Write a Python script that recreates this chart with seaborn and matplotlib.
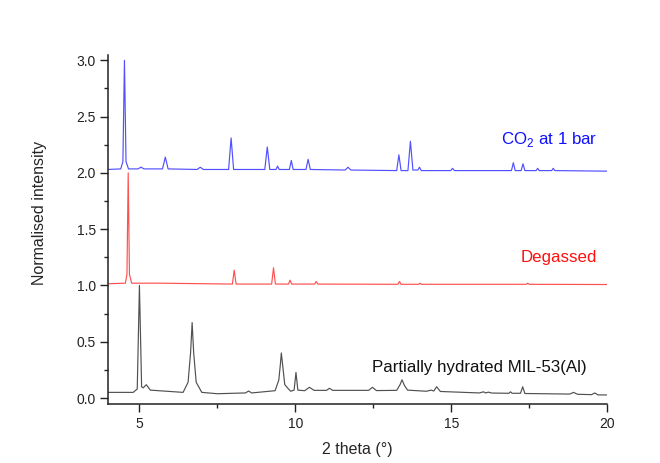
import matplotlib
matplotlib.use("Agg")
import matplotlib.pyplot as plt
from matplotlib.ticker import MultipleLocator
import seaborn as sns
import pandas as pd

# ---- data (2 theta in degrees, normalised intensity) ----
co2_x = [4.00, 4.40, 4.47, 4.52, 4.57, 4.65, 4.95, 5.05, 5.15, 5.74, 5.83, 5.92,
         6.85, 6.95, 7.05, 7.86, 7.94, 8.02, 9.02, 9.10, 9.18, 9.38, 9.43, 9.48,
         9.81, 9.87, 9.93, 10.34, 10.41, 10.48, 11.60, 11.69, 11.78, 13.25, 13.32,
         13.39, 13.61, 13.69, 13.77, 13.93, 13.98, 14.04, 14.98, 15.04, 15.10,
         16.93, 16.99, 17.05, 17.24, 17.30, 17.36, 17.72, 17.77, 17.82, 18.22,
         18.27, 18.32, 20.00]
co2_y = [2.03, 2.035, 2.10, 3.00, 2.10, 2.035, 2.035, 2.05, 2.035, 2.035, 2.14, 2.035,
         2.03, 2.05, 2.03, 2.03, 2.31, 2.03, 2.03, 2.23, 2.03, 2.03, 2.06, 2.03,
         2.03, 2.11, 2.03, 2.03, 2.12, 2.03, 2.025, 2.05, 2.025, 2.02, 2.16,
         2.02, 2.02, 2.28, 2.025, 2.025, 2.05, 2.02, 2.02, 2.04, 2.02,
         2.02, 2.09, 2.02, 2.02, 2.08, 2.02, 2.02, 2.04, 2.02, 2.02,
         2.04, 2.02, 2.015]

deg_x = [4.00, 4.55, 4.60, 4.64, 4.68, 4.75, 5.03, 5.64, 7.98, 8.04, 8.10, 9.24,
         9.30, 9.36, 9.78, 9.83, 9.88, 10.62, 10.67, 10.72, 13.29, 13.34, 13.39,
         13.96, 14.00, 14.04, 17.40, 17.45, 17.50, 20.00]
deg_y = [1.015, 1.02, 1.10, 2.00, 1.10, 1.02, 1.02, 1.02, 1.012, 1.135, 1.012, 1.012,
         1.157, 1.012, 1.012, 1.047, 1.012, 1.012, 1.035, 1.012, 1.01, 1.035, 1.01,
         1.01, 1.02, 1.01, 1.01, 1.02, 1.01, 1.008]

hyd_x = [4.00, 4.80, 4.93, 5.00, 5.07, 5.12, 5.22, 5.35, 6.40, 6.56, 6.64, 6.69,
         6.74, 6.82, 7.00, 7.50, 8.40, 8.50, 8.60, 9.35, 9.47, 9.52, 9.55, 9.59,
         9.66, 9.76, 9.85, 9.96, 10.02, 10.08, 10.30, 10.45, 10.60, 11.00, 11.09,
         11.20, 12.35, 12.47, 12.60, 13.25, 13.36, 13.42, 13.50, 13.60, 14.20,
         14.36, 14.44, 14.53, 14.65, 15.90, 16.03, 16.10, 16.19, 16.30, 16.85,
         16.90, 16.95, 17.22, 17.29, 17.36, 18.80, 18.92, 19.05, 19.50, 19.60,
         19.70, 20.00]
hyd_y = [0.05, 0.05, 0.08, 1.00, 0.10, 0.09, 0.118, 0.07, 0.05, 0.14, 0.40, 0.67,
         0.40, 0.14, 0.05, 0.038, 0.045, 0.062, 0.045, 0.065, 0.16, 0.30, 0.40, 0.30,
         0.12, 0.086, 0.06, 0.07, 0.227, 0.07, 0.065, 0.095, 0.068, 0.068, 0.086,
         0.068, 0.068, 0.095, 0.066, 0.068, 0.12, 0.162, 0.11, 0.07, 0.06,
         0.07, 0.062, 0.10, 0.058, 0.045, 0.055, 0.045, 0.052, 0.044, 0.042,
         0.055, 0.042, 0.042, 0.10, 0.04, 0.035, 0.05, 0.033, 0.03, 0.045,
         0.028, 0.027]

labels = ["CO$_2$ at 1 bar", "Degassed", "Partially hydrated MIL-53(Al)"]
line_colors = ["#5050ff", "#ff5050", "#505050"]
text_colors = ["#1010ff", "#ff1010", "#111111"]
label_pos = [(19.67, 2.30), (19.67, 1.25), (19.35, 0.27)]

# ---- plotting ----
sns.set_theme(style="ticks")
plt.rcParams["font.family"] = ["Liberation Sans", "DejaVu Sans"]
plt.rcParams["mathtext.fontset"] = "custom"
plt.rcParams["mathtext.rm"] = "Liberation Sans"

fig = plt.figure(figsize=(6.6, 4.63), dpi=100)
ax = fig.add_axes([0.164, 0.127, 0.756, 0.755])

series = [(co2_x, co2_y), (deg_x, deg_y), (hyd_x, hyd_y)]
for (xs, ys), col in zip(series, line_colors):
    df = pd.DataFrame({"x": xs, "y": ys})
    sns.lineplot(data=df, x="x", y="y", ax=ax, color=col, lw=0.85,
                 estimator=None, sort=False)

for lab, (tx, ty), tc in zip(labels, label_pos, text_colors):
    ax.text(tx, ty, lab, color=tc, fontsize=12.2, ha="right", va="center")

ax.set_xlim(4, 20)
ax.set_ylim(-0.055, 3.05)
ax.xaxis.set_major_locator(MultipleLocator(5))
ax.xaxis.set_minor_locator(MultipleLocator(2.5))
ax.yaxis.set_major_locator(MultipleLocator(0.5))
ax.yaxis.set_minor_locator(MultipleLocator(0.25))
ax.yaxis.set_major_formatter(matplotlib.ticker.FormatStrFormatter("%.1f"))

for s in ["top", "right"]:
    ax.spines[s].set_visible(False)
for s in ["left", "bottom"]:
    ax.spines[s].set_linewidth(1.1)
    ax.spines[s].set_color("#222222")

ax.tick_params(which="major", direction="out", length=6, width=1.0,
               labelsize=10, colors="#222222", pad=3)
ax.tick_params(which="minor", direction="out", length=3, width=1.0,
               colors="#222222")

ax.set_xlabel("2 theta (°)", fontsize=11.5, labelpad=8)
ax.set_ylabel("Normalised intensity", fontsize=11.5)
ax.yaxis.set_label_coords(-0.122, 0.547)

fig.savefig("out.png", dpi=100)
